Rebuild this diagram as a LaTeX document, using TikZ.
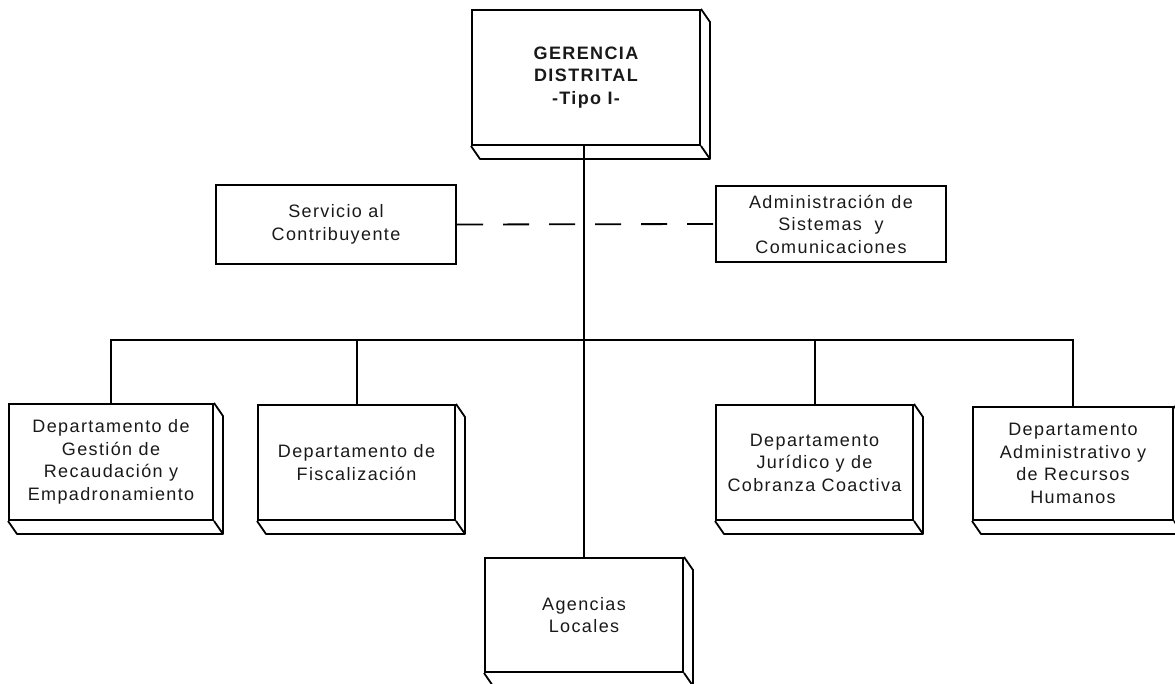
\documentclass[tikz,border=0pt]{standalone}
\usepackage{fontspec}
\setmainfont{Liberation Sans}[LetterSpace=7.7]
\usetikzlibrary{calc}
\begin{document}
\begin{tikzpicture}[x=1pt,y=-1pt,
  unitbox/.style={draw, line width=2pt, inner sep=0pt, align=center,
    font=\fontsize{18}{22.5}\selectfont, text=black!90},
  conn/.style={line width=2pt},
  dashconn/.style={line width=1.8pt, dash pattern=on 26pt off 20pt}]
\useasboundingbox (0,0) rectangle (1175,684);
\clip (0,0) rectangle (1175,684);

% head office
\node[unitbox, minimum width=228pt, minimum height=135pt, font=\fontsize{18}{22.5}\selectfont\bfseries]
  (ger) at (586,77.5) {GERENCIA\\DISTRITAL\\-Tipo I-};

% staff units
\node[unitbox, minimum width=240pt, minimum height=79pt] (serv) at (336,224.5)
  {Servicio al\\Contribuyente};
\node[unitbox, minimum width=230pt, minimum height=76pt] (adm) at (831,224)
  {Administración de\\Sistemas\ \ y\\Comunicaciones};

% departments
\node[unitbox, minimum width=204pt, minimum height=116pt] (d1) at (111,462)
  {Departamento de\\Gestión de\\Recaudación y\\Empadronamiento};
\node[unitbox, minimum width=197pt, minimum height=115pt] (d2) at (356.5,462.5)
  {Departamento de\\Fiscalización};
\node[unitbox, minimum width=197pt, minimum height=115pt] (d3) at (814.5,462.5)
  {Departamento\\Jurídico y de\\Cobranza Coactiva};
\node[unitbox, minimum width=200pt, minimum height=113pt] (d4) at (1073,463.5)
  {Departamento\\Administrativo y\\de Recursos\\Humanos};

% local agencies
\node[unitbox, minimum width=198pt, minimum height=114pt] (ag) at (584,615)
  {Agencias\\Locales};

% raised edges of the 3D boxes
\foreach \n in {ger,d1,d2,d3,d4,ag}{
  \draw[line width=1.8pt, line join=round]
    (\n.north east) -- ($(\n.north east)+(9,13)$) -- ($(\n.south east)+(9,13)$)
    -- ($(\n.south west)+(9,13)$) -- (\n.south west);
  \draw[line width=1.8pt] (\n.south east) -- ($(\n.south east)+(9,13)$);
}

% main trunk
\coordinate (bus) at (584,340);
\draw[conn] (ag.north |- ger.south) -- (ag.north);

% staff link
\draw[dashconn] (serv.east) -- (adm.west);

% department bus
\draw[conn] (d1.north) -- (d1.north |- bus) -- (d4.north |- bus) -- (d4.north);
\draw[conn] (d2.north |- bus) -- (d2.north);
\draw[conn] (d3.north |- bus) -- (d3.north);
\end{tikzpicture}
\end{document}
